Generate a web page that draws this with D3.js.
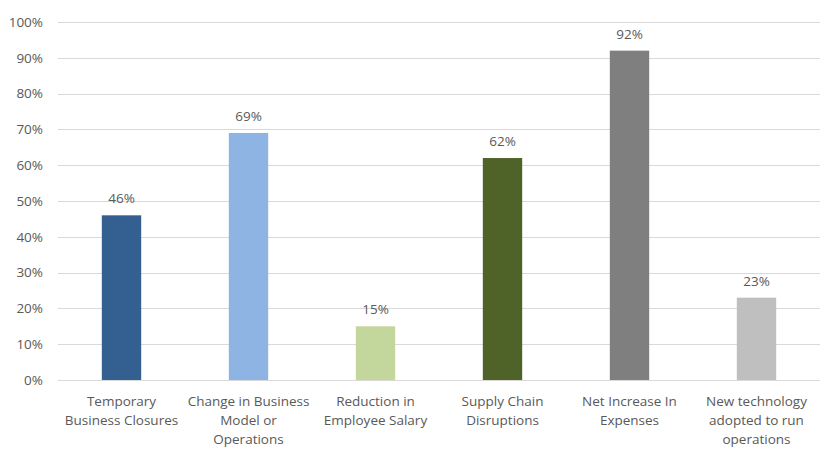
<!DOCTYPE html>
<html>
<head>
<meta charset="utf-8">
<script src="https://cdn.jsdelivr.net/npm/d3@7"></script>
<style>
  html, body { margin: 0; padding: 0; background: #fff; }
  svg text { font-family: "Open Sans", "Liberation Sans", sans-serif; fill: #595959; }
</style>
</head>
<body>
<svg id="chart" width="822" height="452"></svg>
<script>
// Impact categories (each label split into display lines)
const categories = [
  ["Temporary", "Business Closures"],
  ["Change in Business", "Model or", "Operations"],
  ["Reduction in", "Employee Salary"],
  ["Supply Chain", "Disruptions"],
  ["Net Increase In", "Expenses"],
  ["New technology", "adopted to run", "operations"]
];
const values = [46, 69, 15, 62, 92, 23];
const barColors = ["#335F91", "#8EB4E3", "#C3D69B", "#4F6228", "#7F7F7F", "#BFBFBF"];
const yTicks = [0, 10, 20, 30, 40, 50, 60, 70, 80, 90, 100];

const svg = d3.select("#chart");
const margin = { left: 58, right: 2, top: 22, bottom: 72 };
const W = 822, H = 452;

const keys = categories.map((c, i) => i);
const x = d3.scaleBand().domain(keys).range([margin.left, W - margin.right]).paddingInner(0.69).paddingOuter(0.345);
const y = d3.scaleLinear().domain([0, 100]).range([H - margin.bottom, margin.top]);

// Horizontal gridlines
svg.append("g")
  .selectAll("line")
  .data(yTicks)
  .join("line")
  .attr("x1", margin.left).attr("x2", W - margin.right)
  .attr("y1", d => Math.round(y(d)) + 0.5).attr("y2", d => Math.round(y(d)) + 0.5)
  .attr("stroke", "#D9D9D9").attr("stroke-width", 1);

// Y axis labels
const yAxis = svg.append("g")
  .attr("transform", `translate(${margin.left},0)`)
  .call(d3.axisLeft(y).tickValues(yTicks).tickFormat(d => d + "%").tickSize(0).tickPadding(15));
yAxis.select(".domain").remove();
yAxis.selectAll("text").style("font-size", "13.5px").attr("fill", "#595959");

// Bars
svg.append("g")
  .selectAll("rect")
  .data(values)
  .join("rect")
  .attr("x", (d, i) => x(i))
  .attr("width", x.bandwidth())
  .attr("y", d => y(d))
  .attr("height", d => y(0) - y(d))
  .attr("fill", (d, i) => barColors[i]);

// Value labels
svg.append("g")
  .selectAll("text")
  .data(values)
  .join("text")
  .attr("x", (d, i) => x(i) + x.bandwidth() / 2)
  .attr("y", d => y(d) - 12)
  .attr("text-anchor", "middle")
  .style("font-size", "13.5px")
  .text(d => d + "%");

// Category labels
const catG = svg.append("g")
  .selectAll("text")
  .data(categories)
  .join("text")
  .attr("x", (d, i) => x(i) + x.bandwidth() / 2)
  .attr("y", y(0) + 26)
  .attr("text-anchor", "middle")
  .style("font-size", "13.5px");
catG.selectAll("tspan")
  .data(d => d)
  .join("tspan")
  .attr("x", function () { return d3.select(this.parentNode).attr("x"); })
  .attr("dy", (d, j) => j === 0 ? 0 : 19)
  .text(d => d);
</script>
</body>
</html>
